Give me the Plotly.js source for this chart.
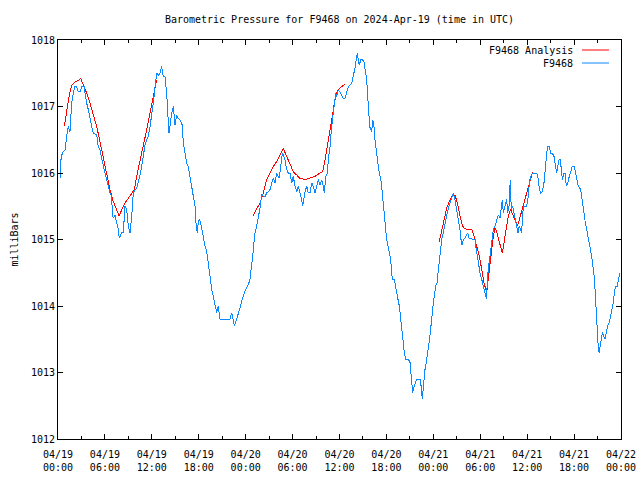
<!DOCTYPE html>
<html>
<head>
<meta charset="utf-8">
<script src="https://cdn.plot.ly/plotly-3.0.1.min.js"></script>
<style>html,body{margin:0;padding:0;background:#fff;}#chart{width:640px;height:480px;}
#chart .scatterlayer path{shape-rendering:crispEdges;}</style>
</head>
<body>
<div id="chart"></div>
<script>
// Hours since 2024-04-19 00:00 UTC
const stationHours = [0.26,0.38,0.55,0.90,1.11,1.32,1.53,1.75,1.96,2.17,2.39,2.60,2.81,3.03,3.33,3.45,3.67,3.88,4.09,4.31,4.51,4.95,5.15,5.37,5.59,5.79,6.01,6.23,6.43,6.65,6.87,6.94,7.07,7.29,7.51,7.71,7.84,8.15,8.35,8.57,8.79,8.99,9.21,9.43,9.63,9.85,10.06,10.27,10.49,10.70,10.91,11.13,11.34,11.55,11.77,11.98,12.19,12.41,12.62,12.83,13.04,13.26,13.47,13.68,13.90,14.03,14.20,14.32,14.54,14.75,14.96,15.18,15.39,15.60,15.90,16.02,16.24,16.46,16.66,16.88,17.10,17.30,17.52,17.65,17.81,17.94,18.07,18.25,18.38,18.58,18.80,19.02,19.22,19.44,19.66,19.86,20.08,20.30,20.50,20.72,21.10,22.00,22.21,22.42,22.55,22.76,23.06,23.28,23.49,23.70,23.91,24.13,24.34,24.55,24.77,24.90,25.07,25.19,25.41,25.62,25.83,26.05,26.25,26.47,26.69,26.89,27.11,27.33,27.53,27.75,27.97,28.17,28.30,28.48,28.69,28.81,29.03,29.25,29.45,29.67,29.89,30.09,30.31,30.53,30.73,30.95,31.17,31.29,31.46,31.59,31.81,32.01,32.23,32.45,32.65,32.87,33.08,33.29,33.51,33.72,33.93,34.06,34.24,34.44,34.57,34.79,35.00,35.21,35.34,35.51,35.64,35.85,36.06,36.28,36.49,36.70,36.92,37.13,37.56,37.77,37.98,38.20,38.28,38.41,38.53,38.71,38.97,39.13,39.26,39.48,39.61,39.74,39.86,39.99,40.12,40.25,40.41,40.54,40.67,40.83,40.96,41.18,41.35,41.47,41.60,41.78,41.95,42.11,42.29,42.46,42.62,42.75,43.01,43.14,43.32,43.48,43.65,43.83,43.99,44.16,44.29,44.47,44.80,45.02,45.15,45.27,45.36,45.49,45.66,45.87,46.30,46.43,46.59,46.77,46.94,47.10,47.28,47.45,47.61,47.79,47.96,48.12,48.30,48.47,48.60,48.73,48.85,49.07,49.28,49.49,49.71,49.92,50.13,50.35,50.56,50.77,50.99,51.19,51.41,51.54,51.67,51.83,52.05,52.27,52.39,52.56,52.78,53.11,53.33,53.46,53.62,53.80,53.97,54.19,54.39,54.52,54.70,54.82,54.90,55.08,55.24,55.37,55.50,55.67,55.89,56.10,56.31,56.53,56.65,56.82,56.95,57.17,57.38,57.51,57.68,57.84,57.97,58.15,58.31,58.48,58.66,58.82,58.99,59.17,59.30,59.42,59.59,59.94,60.15,60.27,60.45,60.66,61.22,61.43,61.55,61.73,61.94,62.15,62.32,62.50,62.63,62.83,63.01,63.21,63.43,63.60,63.78,63.91,64.07,64.24,64.37,64.50,64.68,64.84,65.01,65.19,65.39,65.61,65.77,66.03,66.21,66.42,66.54,66.85,67.01,67.18,67.31,67.44,67.61,67.78,67.95,68.13,68.25,68.38,68.55,68.68,68.80,68.93,69.06,69.19,69.32,69.48,69.61,69.79,69.95,70.12,70.30,70.50,70.68,70.85,71.02,71.20,71.36,71.53,71.71,71.84];
const stationPressure = [1015.92,1016.2,1016.3,1016.35,1016.55,1016.7,1016.62,1017.05,1017.2,1017.3,1017.3,1017.22,1017.22,1017.3,1017.3,1017.2,1017.05,1016.95,1016.8,1016.7,1016.6,1016.57,1016.4,1016.35,1016.22,1016.1,1016.0,1015.9,1015.8,1015.7,1015.65,1015.4,1015.32,1015.37,1015.25,1015.15,1015.02,1015.1,1015.1,1015.5,1015.45,1015.2,1015.1,1015.35,1015.7,1015.75,1015.77,1015.85,1015.97,1016.1,1016.25,1016.42,1016.5,1016.55,1016.7,1016.85,1017.05,1017.3,1017.5,1017.47,1017.5,1017.6,1017.45,1017.45,1017.2,1016.92,1016.6,1016.7,1016.9,1017.0,1016.72,1016.87,1016.82,1016.8,1016.72,1016.45,1016.3,1016.15,1016.1,1015.95,1015.85,1015.7,1015.5,1015.25,1015.1,1015.25,1015.3,1015.25,1015.15,1015.0,1014.9,1014.82,1014.6,1014.45,1014.25,1014.15,1014.05,1013.9,1014.0,1013.8,1013.8,1013.8,1013.9,1013.8,1013.7,1013.77,1013.87,1013.97,1014.07,1014.15,1014.22,1014.27,1014.32,1014.4,1014.6,1014.75,1014.97,1015.1,1015.2,1015.32,1015.47,1015.68,1015.65,1015.64,1015.7,1015.72,1015.75,1015.85,1015.92,1015.85,1016.0,1015.95,1015.92,1016.1,1016.3,1016.28,1016.2,1016.05,1016.0,1016.0,1015.85,1015.95,1015.8,1015.72,1015.8,1015.7,1015.6,1015.5,1015.65,1015.72,1015.8,1015.7,1015.7,1015.85,1015.8,1015.7,1015.8,1015.9,1015.82,1015.9,1015.8,1015.7,1015.95,1016.0,1016.2,1016.4,1016.7,1016.9,1017.05,1017.2,1017.15,1017.25,1017.22,1017.17,1017.12,1017.12,1017.2,1017.3,1017.35,1017.45,1017.58,1017.75,1017.8,1017.7,1017.62,1017.7,1017.7,1017.67,1017.55,1017.4,1017.15,1016.85,1016.7,1016.65,1016.62,1016.8,1016.7,1016.5,1016.35,1016.25,1016.1,1015.95,1015.85,1015.7,1015.5,1015.25,1015.1,1014.95,1014.85,1014.75,1014.6,1014.4,1014.4,1014.3,1014.2,1014.1,1014.0,1013.8,1013.65,1013.5,1013.3,1013.2,1013.2,1013.15,1013.0,1012.8,1012.7,1012.77,1012.82,1012.9,1012.9,1012.8,1012.6,1012.9,1013.05,1013.15,1013.35,1013.45,1013.6,1013.85,1014.0,1014.15,1014.3,1014.35,1014.5,1014.7,1014.85,1015.0,1015.1,1015.25,1015.37,1015.47,1015.55,1015.65,1015.7,1015.6,1015.45,1015.3,1015.15,1015.0,1014.92,1015.0,1015.02,1015.07,1015.1,1015.02,1015.02,1015.0,1015.0,1014.87,1014.75,1014.6,1014.5,1014.4,1014.3,1014.2,1014.15,1014.1,1014.4,1014.6,1014.75,1014.9,1015.05,1015.15,1015.2,1015.3,1015.37,1015.32,1015.45,1015.6,1015.4,1015.5,1015.6,1015.4,1015.5,1015.9,1015.45,1015.5,1015.4,1015.3,1015.2,1015.1,1015.2,1015.15,1015.1,1015.4,1015.5,1015.5,1015.65,1015.85,1015.95,1016.0,1016.0,1015.9,1015.77,1015.7,1015.72,1015.85,1016.1,1016.3,1016.4,1016.4,1016.3,1016.3,1016.25,1016.15,1016.0,1016.1,1016.2,1016.2,1016.05,1015.9,1016.0,1016.0,1015.8,1015.85,1015.95,1016.05,1016.1,1016.1,1016.0,1015.9,1015.8,1015.75,1015.6,1015.45,1015.35,1015.25,1015.15,1015.05,1014.92,1014.85,1014.75,1014.62,1014.47,1014.25,1013.95,1013.7,1013.45,1013.3,1013.37,1013.5,1013.6,1013.55,1013.5,1013.6,1013.7,1013.75,1013.85,1013.95,1014.05,1014.25,1014.3,1014.3,1014.45,1014.5];

// Analysis segments (null separates runs)
const analysisHours = [0.81,1.11,1.41,1.75,2.17,2.60,2.90,3.24,3.67,4.09,4.51,4.95,5.37,5.79,6.23,6.65,7.07,7.51,7.84,8.15,8.57,8.99,9.43,9.76,10.06,10.49,10.91,11.34,11.77,12.19,12.62,
  null,
  24.90,25.41,25.83,26.25,26.69,27.11,27.53,27.97,28.39,28.81,29.25,29.67,30.09,30.53,30.95,31.59,32.23,32.87,33.51,33.85,34.15,34.44,34.79,35.08,35.42,35.64,35.85,36.28,36.70,
  null,
  48.76,49.07,49.37,49.71,50.04,50.39,50.77,51.07,51.41,51.76,52.05,52.69,52.91,53.20,53.55,53.88,54.19,54.48,54.82,55.03,55.24,55.46,55.67,55.89,56.10,56.31,56.53,56.82,57.04,57.29,57.58,57.88,58.21,58.52,58.76,58.99,59.30,59.59,59.94,60.27,60.58,60.79];
const analysisPressure = [1016.7,1016.95,1017.15,1017.32,1017.37,1017.39,1017.42,1017.32,1017.2,1017.05,1016.87,1016.7,1016.47,1016.22,1016.0,1015.75,1015.57,1015.45,1015.35,1015.45,1015.55,1015.62,1015.7,1015.75,1015.95,1016.17,1016.4,1016.65,1016.9,1017.15,1017.4,
  null,
  1015.35,1015.45,1015.55,1015.7,1015.9,1016.0,1016.1,1016.17,1016.27,1016.37,1016.25,1016.12,1016.02,1015.97,1015.92,1015.9,1015.92,1015.95,1016.0,1016.02,1016.2,1016.4,1016.65,1016.9,1017.1,1017.2,1017.25,1017.3,1017.33,
  null,
  1014.97,1015.15,1015.32,1015.47,1015.57,1015.65,1015.67,1015.55,1015.35,1015.2,1015.16,1015.16,1015.15,1015.05,1014.9,1014.75,1014.55,1014.35,1014.2,1014.4,1014.65,1014.9,1015.05,1015.17,1015.12,1015.02,1014.92,1014.8,1014.95,1015.15,1015.35,1015.45,1015.37,1015.27,1015.2,1015.3,1015.45,1015.55,1015.7,1015.85,1015.97,1016.02];

const tickHours = [0,6,12,18,24,30,36,42,48,54,60,66,72];
const tickLabels = ["04/19<br>00:00","04/19<br>06:00","04/19<br>12:00","04/19<br>18:00","04/20<br>00:00","04/20<br>06:00","04/20<br>12:00","04/20<br>18:00","04/21<br>00:00","04/21<br>06:00","04/21<br>12:00","04/21<br>18:00","04/22<br>00:00"];
const yTicks = [1012,1013,1014,1015,1016,1017,1018];
const seriesNames = ["F9468 Analysis","F9468"];

const RED = "#ff0000", BLUE = "#0a88ff";
const FONT = "DejaVu Sans Mono";

const traces = [
  {x: analysisHours, y: analysisPressure, type: "scatter", mode: "lines", name: seriesNames[0],
   line: {color: RED, width: 1}, connectgaps: false, hoverinfo: "skip"},
  {x: stationHours, y: stationPressure, type: "scatter", mode: "lines", name: seriesNames[1],
   line: {color: BLUE, width: 1}, hoverinfo: "skip"}
];

const layout = {
  width: 640, height: 480,
  margin: {l: 58, r: 19, t: 40, b: 41},
  paper_bgcolor: "#ffffff", plot_bgcolor: "#ffffff",
  showlegend: false,
  font: {family: FONT, size: 10, color: "#000"},
  title: {text: "Barometric Pressure for F9468 on 2024-Apr-19 (time in UTC)",
          x: 0.5, xref: "paper", y: 1 - 19/480, yref: "container", yanchor: "middle",
          font: {family: FONT, size: 10, color: "#000"}},
  xaxis: {
    range: [0, 72], tickmode: "array", tickvals: tickHours, ticktext: tickLabels,
    ticks: "inside", ticklen: 5, tickcolor: "#000", tickwidth: 1,
    showline: true, linecolor: "#000", linewidth: 1, mirror: "ticks",
    showgrid: false, zeroline: false, fixedrange: true, ticklabelstandoff: 6,
    minor: {tickmode: "linear", tick0: 0, dtick: 3, ticks: "inside", ticklen: 3, tickcolor: "#000", showgrid: false},
    tickfont: {family: FONT, size: 10, color: "#000"}
  },
  yaxis: {
    range: [1012, 1018], tickmode: "array", tickvals: yTicks, ticktext: yTicks.map(String),
    ticks: "inside", ticklen: 5, tickcolor: "#000", tickwidth: 1,
    showline: true, linecolor: "#000", linewidth: 1, mirror: "ticks",
    showgrid: false, zeroline: false, fixedrange: true,
    tickfont: {family: FONT, size: 10, color: "#000"},
    title: {text: "milliBars", standoff: 10, font: {family: FONT, size: 10, color: "#000"}}
  },
  annotations: [
    {text: seriesNames[0], xref: "paper", yref: "paper", x: (575-58)/563, y: (439-50)/399,
     xanchor: "right", yanchor: "middle", showarrow: false, font: {family: FONT, size: 10, color: "#000"}},
    {text: seriesNames[1], xref: "paper", yref: "paper", x: (575-58)/563, y: (439-63)/399,
     xanchor: "right", yanchor: "middle", showarrow: false, font: {family: FONT, size: 10, color: "#000"}}
  ],
  shapes: [
    {type: "line", xref: "paper", yref: "paper", x0: (582-58)/563, x1: (609-58)/563, y0: (439-50)/399, y1: (439-50)/399, line: {color: RED, width: 1}},
    {type: "line", xref: "paper", yref: "paper", x0: (582-58)/563, x1: (609-58)/563, y0: (439-63)/399, y1: (439-63)/399, line: {color: BLUE, width: 1}}
  ]
};

Plotly.newPlot("chart", traces, layout, {staticPlot: true, displayModeBar: false});
</script>
</body>
</html>
